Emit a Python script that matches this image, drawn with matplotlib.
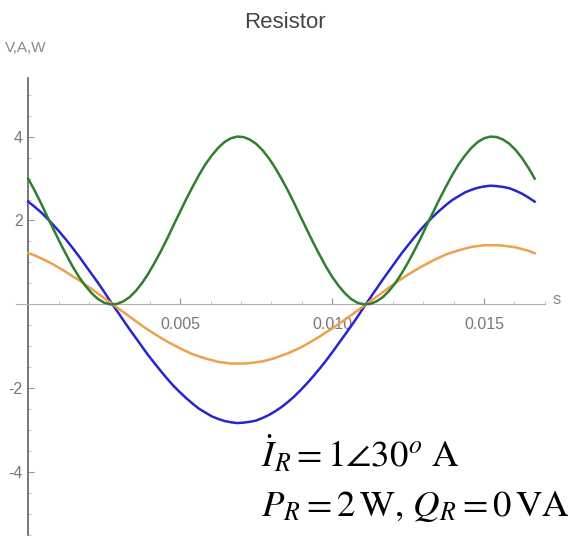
import matplotlib
matplotlib.use("Agg")
import matplotlib.pyplot as plt
from matplotlib.ticker import MultipleLocator

plt.rcParams['mathtext.fontset'] = 'stix'
plt.rcParams['font.family'] = ['Liberation Sans Narrow', 'Liberation Sans', 'DejaVu Sans']
plt.rcParams['axes.unicode_minus'] = False

# --- data (one period, 60 Hz) ---
t = [0, 0.000208, 0.000417, 0.000625, 0.000833, 0.001042, 0.00125, 0.001458,
     0.001667, 0.001875, 0.002083, 0.002292, 0.0025, 0.002708, 0.002917, 0.003125,
     0.003333, 0.003542, 0.00375, 0.003958, 0.004167, 0.004375, 0.004583, 0.004792,
     0.005, 0.005208, 0.005417, 0.005625, 0.005833, 0.006042, 0.00625, 0.006458,
     0.006667, 0.006875, 0.007083, 0.007292, 0.0075, 0.007708, 0.007917, 0.008125,
     0.008333, 0.008542, 0.00875, 0.008958, 0.009167, 0.009375, 0.009583, 0.009792,
     0.01, 0.010208, 0.010417, 0.010625, 0.010833, 0.011042, 0.01125, 0.011458,
     0.011667, 0.011875, 0.012083, 0.012292, 0.0125, 0.012708, 0.012917, 0.013125,
     0.013333, 0.013542, 0.01375, 0.013958, 0.014167, 0.014375, 0.014583, 0.014792,
     0.015, 0.015208, 0.015417, 0.015625, 0.015833, 0.016042, 0.01625, 0.016458,
     0.016667]

voltage = [2.45, 2.33, 2.20, 2.05, 1.89, 1.72, 1.54, 1.35,
           1.15, 0.94, 0.73, 0.52, 0.30, 0.07, -0.15, -0.37,
           -0.59, -0.80, -1.01, -1.22, -1.41, -1.60, -1.78, -1.95,
           -2.10, -2.24, -2.37, -2.49, -2.58, -2.67, -2.73, -2.78,
           -2.81, -2.83, -2.82, -2.80, -2.77, -2.71, -2.64, -2.55,
           -2.45, -2.33, -2.20, -2.05, -1.89, -1.72, -1.54, -1.35,
           -1.15, -0.94, -0.73, -0.52, -0.30, -0.07, 0.15, 0.37,
           0.59, 0.80, 1.01, 1.22, 1.41, 1.60, 1.78, 1.95,
           2.10, 2.24, 2.37, 2.49, 2.58, 2.67, 2.73, 2.78,
           2.81, 2.83, 2.82, 2.80, 2.77, 2.71, 2.64, 2.55,
           2.45]

current = [1.22, 1.17, 1.10, 1.03, 0.95, 0.86, 0.77, 0.67,
           0.58, 0.47, 0.37, 0.26, 0.15, 0.04, -0.07, -0.18,
           -0.29, -0.40, -0.51, -0.61, -0.71, -0.80, -0.89, -0.97,
           -1.05, -1.12, -1.19, -1.24, -1.29, -1.33, -1.37, -1.39,
           -1.41, -1.41, -1.41, -1.40, -1.38, -1.36, -1.32, -1.28,
           -1.22, -1.17, -1.10, -1.03, -0.95, -0.86, -0.77, -0.67,
           -0.58, -0.47, -0.37, -0.26, -0.15, -0.04, 0.07, 0.18,
           0.29, 0.40, 0.51, 0.61, 0.71, 0.80, 0.89, 0.97,
           1.05, 1.12, 1.19, 1.24, 1.29, 1.33, 1.37, 1.39,
           1.41, 1.41, 1.41, 1.40, 1.38, 1.36, 1.32, 1.28,
           1.22]

power = [3.00, 2.72, 2.42, 2.10, 1.79, 1.48, 1.19, 0.91,
         0.66, 0.45, 0.27, 0.13, 0.04, 0.00, 0.01, 0.07,
         0.17, 0.32, 0.51, 0.74, 1.00, 1.28, 1.58, 1.90,
         2.21, 2.52, 2.81, 3.09, 3.34, 3.55, 3.73, 3.87,
         3.96, 4.00, 3.99, 3.93, 3.83, 3.68, 3.49, 3.26,
         3.00, 2.72, 2.42, 2.10, 1.79, 1.48, 1.19, 0.91,
         0.66, 0.45, 0.27, 0.13, 0.04, 0.00, 0.01, 0.07,
         0.17, 0.32, 0.51, 0.74, 1.00, 1.28, 1.58, 1.90,
         2.21, 2.52, 2.81, 3.09, 3.34, 3.55, 3.73, 3.87,
         3.96, 4.00, 3.99, 3.93, 3.83, 3.68, 3.49, 3.26,
         3.00]

x_ticks = [0.005, 0.010, 0.015]
x_tick_labels = ['0.005', '0.010', '0.015']
y_ticks = [-4, -2, 2, 4]

fig = plt.figure(figsize=(5.76, 5.41), dpi=100)
ax = fig.add_axes([0.0278, 0.011, 0.918, 0.845])

ax.plot(t, voltage, color='#2626cc', lw=1.8, zorder=3)
ax.plot(t, current, color='#eea04a', lw=1.8, zorder=3)
ax.plot(t, power, color='#2f7f2f', lw=1.8, zorder=4)

ax.set_xlim(-0.0004, 0.017)
ax.set_ylim(-5.5, 5.4)

# axes crossing at the origin, mathematica style
for side in ['top', 'right']:
    ax.spines[side].set_visible(False)
ax.spines['bottom'].set_position(('data', 0))
ax.spines['bottom'].set_color('#b0b0b0')
ax.spines['left'].set_position(('data', 0))
ax.spines['left'].set_color('#606060')
ax.spines['left'].set_linewidth(1.2)

ax.set_xticks(x_ticks)
ax.set_xticklabels(x_tick_labels)
ax.set_yticks(y_ticks)
ax.xaxis.set_minor_locator(MultipleLocator(0.001))
ax.yaxis.set_minor_locator(MultipleLocator(0.5))
ax.tick_params(axis='both', which='major', direction='in', length=4,
               color='#999999', labelcolor='#777777', labelsize=11.5)
ax.tick_params(axis='both', which='minor', direction='in', length=2, color='#bbbbbb')
ax.tick_params(axis='x', pad=9)
ax.tick_params(axis='y', pad=4)

ax.set_facecolor('none')
fig.text(0.495, 0.958, 'Resistor', fontsize=16, color='#444444', ha='center', va='center')
fig.text(0.008, 0.911, 'V,A,W', fontsize=11, color='#888888', ha='left', va='center')
fig.text(0.966, 0.446, 's', fontsize=12, color='#888888', ha='center', va='center')

fig.text(0.453, 0.137, r'$\dot{I}_R = 1\angle 30^o\ \mathrm{A}$', fontsize=26.5,
         color='black', ha='left', va='baseline')
fig.text(0.453, 0.047, r'$P_R = 2\,\mathrm{W},\, Q_R = 0\,\mathrm{VA}$', fontsize=26.5,
         color='black', ha='left', va='baseline')

fig.savefig('out.png', dpi=100)
